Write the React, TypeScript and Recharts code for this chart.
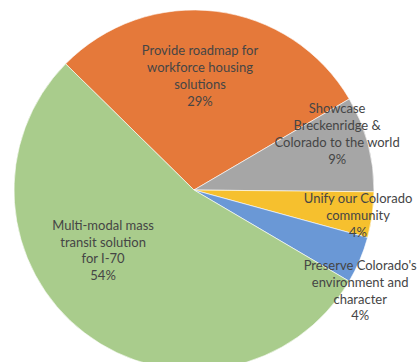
import { Cell, Pie, PieChart } from "recharts";

const categories = [
  "Provide roadmap for|workforce housing|solutions",
  "Showcase|Breckenridge &|Colorado to the world",
  "Unify our Colorado|community",
  "Preserve Colorado's|environment and|character",
  "Multi-modal mass|transit solution|for I-70",
];
// slice sizes (labels show them rounded)
const shares = [29.2, 8.6, 4.1, 4.2, 53.9];
const percentLabels = ["29%", "9%", "4%", "4%", "54%"];

const colors = ["#E5793A", "#A6A6A6", "#F6C02E", "#6A98D6", "#A9CC8C"];

// where each label sits: radius as a share of the pie, angle offset from the slice middle
const labelRadius = [0.623, 0.85, 0.924, 1.085, 0.613];
const labelTurn = [4, 5.8, -1.5, -8.8, -18];

const data = categories.map((name, i) => ({ name, value: shares[i] }));

const RAD = Math.PI / 180;

function renderLabel(props: any) {
  const { cx, cy, outerRadius, midAngle, index } = props;
  const r = outerRadius * labelRadius[index];
  const a = (midAngle + labelTurn[index]) * RAD;
  const x = cx + r * Math.cos(a);
  const y = cy - r * Math.sin(a);
  const lines = [...categories[index].split("|"), percentLabels[index]];
  const lh = 16.8;
  const top = y - ((lines.length - 1) * lh) / 2 + 2.5;
  return (
    <text
      x={x}
      y={top}
      textAnchor="middle"
      fill="#454545"
      fontSize={13}
      fontFamily="Lato, 'Liberation Sans', sans-serif"
    >
      {lines.map((t, k) => (
        <tspan key={k} x={x} y={top + k * lh}>
          {t}
        </tspan>
      ))}
    </text>
  );
}

export default function App() {
  return (
    <div style={{ position: "fixed", left: 0, top: 0, background: "#fff" }}>
      <PieChart width={419} height={362}>
        <Pie
          data={data}
          dataKey="value"
          cx={189}
          cy={185}
          outerRadius={180}
          startAngle={135.5}
          endAngle={-224.5}
          stroke="#fff"
          strokeWidth={0.6}
          label={renderLabel}
          labelLine={false}
          isAnimationActive={false}
        >
          {data.map((d, i) => (
            <Cell key={d.name} fill={colors[i]} />
          ))}
        </Pie>
      </PieChart>
    </div>
  );
}
